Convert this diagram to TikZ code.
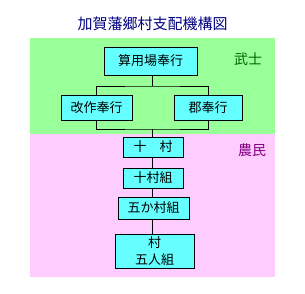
\documentclass[tikz,border=0pt]{standalone}
\usepackage{fontspec}
\newfontfamily\cjk{Noto Sans CJK JP}
\definecolor{bandgreen}{HTML}{99FF99}
\definecolor{bandpink}{HTML}{FFCCFF}
\definecolor{boxcyan}{HTML}{66FFFF}
\definecolor{titlenavy}{HTML}{000080}
\definecolor{samuraigreen}{HTML}{006600}
\definecolor{farmerpurple}{HTML}{800080}
\begin{document}
\begin{tikzpicture}[x=1pt,y=-1pt,
  orgbox/.style={draw=black,line width=1pt,fill=boxcyan,inner sep=0pt,font=\cjk\fontsize{13}{16}\selectfont,align=center},
  conn/.style={draw=black,line width=1pt}]
\useasboundingbox (0,0) rectangle (305,293);
\fill[white] (0,0) rectangle (305,293);
\fill[bandgreen] (30,38) rectangle (275,134);
\fill[bandpink] (30,134) rectangle (275,277);
\node[font=\cjk\fontsize{15}{18}\selectfont,text=titlenavy] (title) at (152.5,24) {加賀藩郷村支配機構図};
\node[font=\cjk\fontsize{14}{16}\selectfont,text=samuraigreen] (bushi) at (248,59) {武士};
\node[font=\cjk\fontsize{14}{16}\selectfont,text=farmerpurple] (nomin) at (252,150) {農民};
\node[orgbox,minimum width=93pt,minimum height=28pt] (sanyo) at (150.5,61) {算用場奉行};
\node[orgbox,minimum width=71pt,minimum height=25pt] (kaisaku) at (96.5,107.5) {改作奉行};
\node[orgbox,minimum width=68pt,minimum height=25pt] (kori) at (208,107.5) {郡奉行};
\node[orgbox,minimum width=60pt,minimum height=20pt] (tomura) at (153,147) {十\hspace{1em}村};
\node[orgbox,minimum width=60pt,minimum height=20pt] (tomuragumi) at (153,178) {十村組};
\node[orgbox,minimum width=71pt,minimum height=22pt] (gokason) at (153.5,208) {五か村組};
\node[orgbox,minimum width=79pt,minimum height=34pt,font=\cjk\fontsize{13}{17}\selectfont] (gonin) at (154.5,251) {村\\五人組};
\coordinate (j1) at (152.5,86);
\coordinate (j2) at (152.5,129);
\draw[conn] (sanyo.south -| j1) -- (j1);
\draw[conn] (kaisaku.north) |- (j1) -| (kori.north);
\draw[conn] (kaisaku.south) |- (j2) -| (kori.south);
\draw[conn] (j2) -- (tomura.north -| j2);
\draw[conn] (tomura.south -| j2) -- (tomuragumi.north -| j2);
\draw[conn] (tomuragumi.south -| j2) -- (gokason.north -| j2);
\draw[conn] (gokason.south -| j2) -- (gonin.north -| j2);
\end{tikzpicture}
\end{document}
